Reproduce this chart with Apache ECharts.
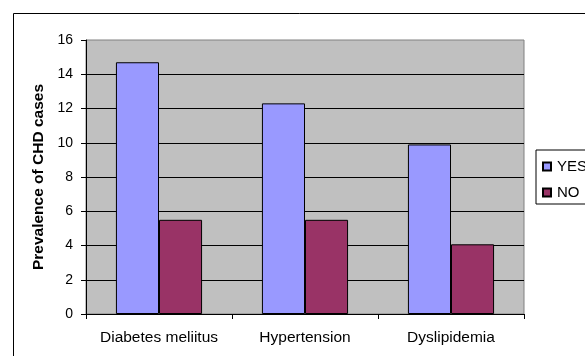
<!DOCTYPE html>
<html>
<head>
<meta charset="utf-8">
<script src="https://cdn.jsdelivr.net/npm/echarts@6/dist/echarts.min.js"></script>
<style>
html,body{margin:0;padding:0;background:#fff;}
#c{width:585px;height:356px;}
</style>
</head>
<body>
<div id="c"></div>
<script>
const categories = ['Diabetes meliitus', 'Hypertension', 'Dyslipidemia'];
const yesValues = [14.7, 12.3, 9.9];
const noValues = [5.5, 5.5, 4.07];
const seriesNames = ['YES', 'NO'];
const yTicks = { min: 0, max: 16, interval: 2 };

const FONT = '"Liberation Sans", Arial, sans-serif';
const chart = echarts.init(document.getElementById('c'), null, { renderer: 'canvas' });
chart.setOption({
  animation: false,
  backgroundColor: '#ffffff',
  graphic: [{
    type: 'rect',
    shape: { x: 13.5, y: 13.5, width: 700, height: 500 },
    style: { fill: 'none', stroke: '#000', lineWidth: 1 },
    z: 0
  }],
  grid: {
    left: 86, top: 40, right: 61, bottom: 42,
    show: true, backgroundColor: '#C0C0C0', borderColor: '#808080', borderWidth: 1
  },
  legend: {
    orient: 'vertical',
    left: 536, top: 150,
    padding: [9, 40, 4, 6],
    itemGap: 11,
    itemWidth: 8, itemHeight: 8,
    icon: 'rect',
    borderColor: '#000', borderWidth: 1,
    backgroundColor: '#fff',
    textStyle: { fontFamily: FONT, fontSize: 15, color: '#000', padding: [0, 0, 0, 1] },
    data: seriesNames
  },
  xAxis: {
    type: 'category',
    data: categories,
    axisLine: { lineStyle: { color: '#000', width: 1 } },
    axisTick: { show: true, interval: 0, length: 5, lineStyle: { color: '#000' } },
    axisLabel: { interval: 0, hideOverlap: false, fontFamily: FONT, fontSize: 15.5, color: '#000', margin: 16 }
  },
  yAxis: {
    type: 'value',
    min: yTicks.min, max: yTicks.max, interval: yTicks.interval,
    name: 'Prevalence of CHD cases',
    nameLocation: 'middle',
    nameGap: 36,
    nameTextStyle: { fontFamily: FONT, fontSize: 15.5, fontWeight: 'bold', color: '#000' },
    axisLine: { show: true, lineStyle: { color: '#000', width: 1 } },
    axisTick: { show: true, length: 5, lineStyle: { color: '#000' } },
    axisLabel: { fontFamily: FONT, fontSize: 14, color: '#000', margin: 13 },
    splitLine: { show: true, showMaxLine: false, lineStyle: { color: '#000', width: 1 } }
  },
  series: [
    {
      name: seriesNames[0], type: 'bar', data: yesValues,
      barGap: '0%', barCategoryGap: '41%',
      itemStyle: { color: '#9999FF', borderColor: '#000', borderWidth: 1 }
    },
    {
      name: seriesNames[1], type: 'bar', data: noValues,
      itemStyle: { color: '#993366', borderColor: '#000', borderWidth: 1 }
    }
  ]
});
</script>
</body>
</html>
